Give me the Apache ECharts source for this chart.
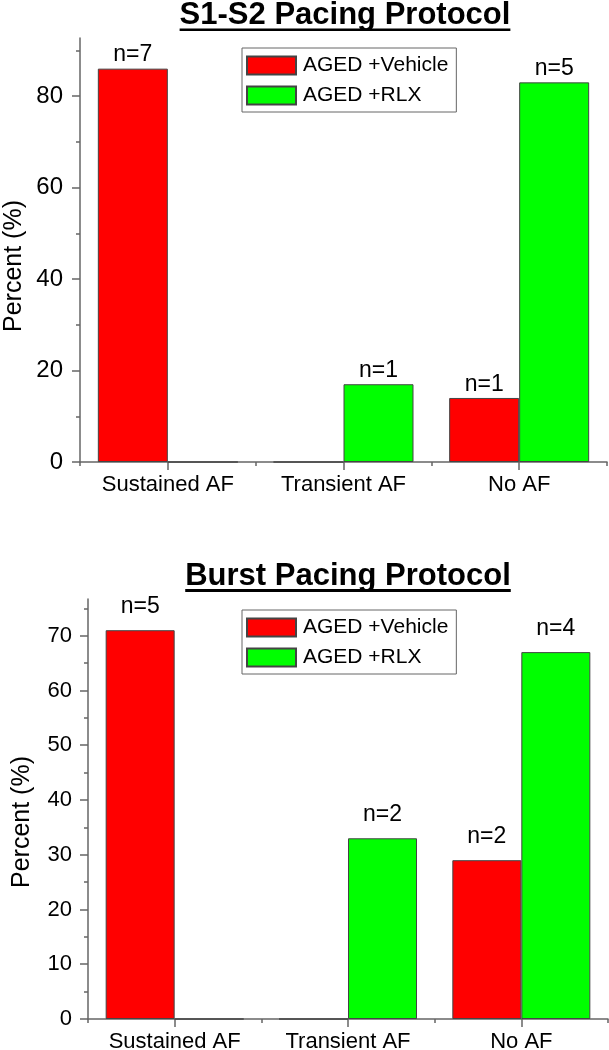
<!DOCTYPE html>
<html>
<head>
<meta charset="utf-8">
<script src="https://cdn.jsdelivr.net/npm/echarts@6/dist/echarts.min.js"></script>
<style>
html,body{margin:0;padding:0;background:#fff;}
#chart{width:609px;height:1050px;}
</style>
</head>
<body>
<div id="chart"></div>
<script>
// ---- data ----
const categories = ['Sustained AF', 'Transient AF', 'No AF'];
const seriesNames = ['AGED +Vehicle', 'AGED +RLX'];

const s1Title = 'S1-S2 Pacing Protocol';
const s1Vehicle = [86, 0, 14];
const s1Rlx = [0, 17, 83];
const s1VehicleN = ['n=7', '', 'n=1'];
const s1RlxN = ['', 'n=1', 'n=5'];
const s1YTicks = [0, 20, 40, 60, 80];
const s1YMinorTicks = [10, 30, 50, 70, 90];
const s1YMax = 92.7;

const burstTitle = 'Burst Pacing Protocol';
const burstVehicle = [71, 0, 29];
const burstRlx = [0, 33, 67];
const burstVehicleN = ['n=5', '', 'n=2'];
const burstRlxN = ['', 'n=2', 'n=4'];
const burstYTicks = [0, 10, 20, 30, 40, 50, 60, 70];
const burstYMinorTicks = [5, 15, 25, 35, 45, 55, 65, 75];
const burstYMax = 76.7;

const yName = 'Percent (%)';

// ---- styling ----
const FONT = '"Liberation Sans", Arial, Helvetica, sans-serif';
const AXIS_COLOR = '#666';
const RED = '#ff0000';
const GREEN = '#00ff00';
const BORDER = '#444';

const chart = echarts.init(document.getElementById('chart'), null, {renderer: 'canvas'});

function measure(text, font) {
  const c = document.createElement('canvas').getContext('2d');
  c.font = font;
  return c.measureText(text).width;
}
const titleFont = 'bold 31px ' + FONT;

function titleGraphics(text, cx, y, underlineY, thick) {
  const w = measure(text, titleFont);
  return [
    {type: 'text', x: cx, y: y, style: {text: text, font: titleFont, fill: '#000', textAlign: 'center', textVerticalAlign: 'top', align: 'center', verticalAlign: 'top'}},
    {type: 'rect', shape: {x: cx - w / 2, y: underlineY, width: w, height: thick}, style: {fill: '#000'}}
  ];
}

function yAxes(grid, max, ticks, minor, fs, margin, nameGap, namePad) {
  return [
    {
      type: 'value', gridIndex: grid, min: 0, max: max, position: 'left',
      axisLine: {show: true, lineStyle: {color: AXIS_COLOR, width: 1.5}},
      axisTick: {show: true, customValues: ticks, length: 8, lineStyle: {color: AXIS_COLOR, width: 1.5}},
      axisLabel: {customValues: ticks, fontSize: fs, color: '#000', margin: margin, fontFamily: FONT},
      splitLine: {show: false},
      name: yName, nameLocation: 'middle', nameGap: nameGap, nameMoveOverlap: false,
      nameTextStyle: {fontSize: 25, color: '#000', fontFamily: FONT, padding: namePad}
    },
    {
      type: 'value', gridIndex: grid, min: 0, max: max, position: 'left',
      axisLine: {show: false},
      axisTick: {show: true, customValues: minor, length: 4, lineStyle: {color: AXIS_COLOR, width: 1.5}},
      axisLabel: {show: false},
      splitLine: {show: false}
    }
  ];
}

function xAxes(grid) {
  return [
    {
      type: 'category', gridIndex: grid, data: categories, position: 'bottom', boundaryGap: true,
      axisLine: {show: true, lineStyle: {color: AXIS_COLOR, width: 1.5}},
      axisTick: {show: true, alignWithLabel: true, length: 8, lineStyle: {color: AXIS_COLOR, width: 1.5}},
      axisLabel: {fontSize: 22, color: '#000', margin: 12, fontFamily: FONT, interval: 0},
      splitLine: {show: false}
    },
    {
      type: 'category', gridIndex: grid, data: categories, position: 'bottom', boundaryGap: true, offset: 0,
      axisLine: {show: false},
      axisTick: {show: true, alignWithLabel: false, length: 4, lineStyle: {color: AXIS_COLOR, width: 1.5}},
      axisLabel: {show: false},
      splitLine: {show: false}
    }
  ];
}

function barSeries(name, data, labels, color, xi, yi, bw, dist) {
  return {
    type: 'bar', name: name, data: data, xAxisIndex: xi, yAxisIndex: yi,
    barWidth: bw, barGap: '0%',
    itemStyle: {color: color, borderColor: BORDER, borderWidth: 1},
    label: {
      show: true, position: 'top', distance: dist, fontSize: 23, color: '#000', fontFamily: FONT,
      formatter: function (p) { return labels[p.dataIndex]; }
    },
    emphasis: {disabled: true},
    animation: false
  };
}

function legend(top) {
  return {
    left: 242, top: top, orient: 'vertical',
    data: seriesNames,
    icon: 'rect', itemWidth: 49, itemHeight: 18, itemGap: 9,
    padding: [7, 8, 6, 4],
    borderColor: '#666', borderWidth: 1,
    selectedMode: false,
    textStyle: {fontSize: 21, color: '#000', fontFamily: FONT, padding: [0, 0, 0, 2]}
  };
}

const option = {
  animation: false,
  backgroundColor: '#fff',
  textStyle: {fontFamily: FONT},
  grid: [
    {left: 80, top: 38, width: 527, height: 424, containLabel: false, outerBoundsMode: 'none'},
    {left: 88, top: 599, width: 520, height: 420, containLabel: false, outerBoundsMode: 'none'}
  ],
  legend: [legend(48), legend(610)],
  xAxis: [].concat(xAxes(0), xAxes(1)),
  yAxis: [].concat(
    yAxes(0, s1YMax, s1YTicks, s1YMinorTicks, 24, 17, 53, [0, 32, 0, 0]),
    yAxes(1, burstYMax, burstYTicks, burstYMinorTicks, 22, 16, 53, [0, 26, 0, 0])
  ),
  series: [
    barSeries(seriesNames[0], s1Vehicle, s1VehicleN, RED, 0, 0, 70, 2),
    barSeries(seriesNames[1], s1Rlx, s1RlxN, GREEN, 0, 0, 70, 2),
    barSeries(seriesNames[0], burstVehicle, burstVehicleN, RED, 2, 2, 69, 12),
    barSeries(seriesNames[1], burstRlx, burstRlxN, GREEN, 2, 2, 69, 12)
  ],
  graphic: [].concat(
    titleGraphics(s1Title, 345, 0, 28.5, 2.5),
    titleGraphics(burstTitle, 348, 561, 589, 3)
  )
};
chart.setOption(option);
</script>
</body>
</html>
